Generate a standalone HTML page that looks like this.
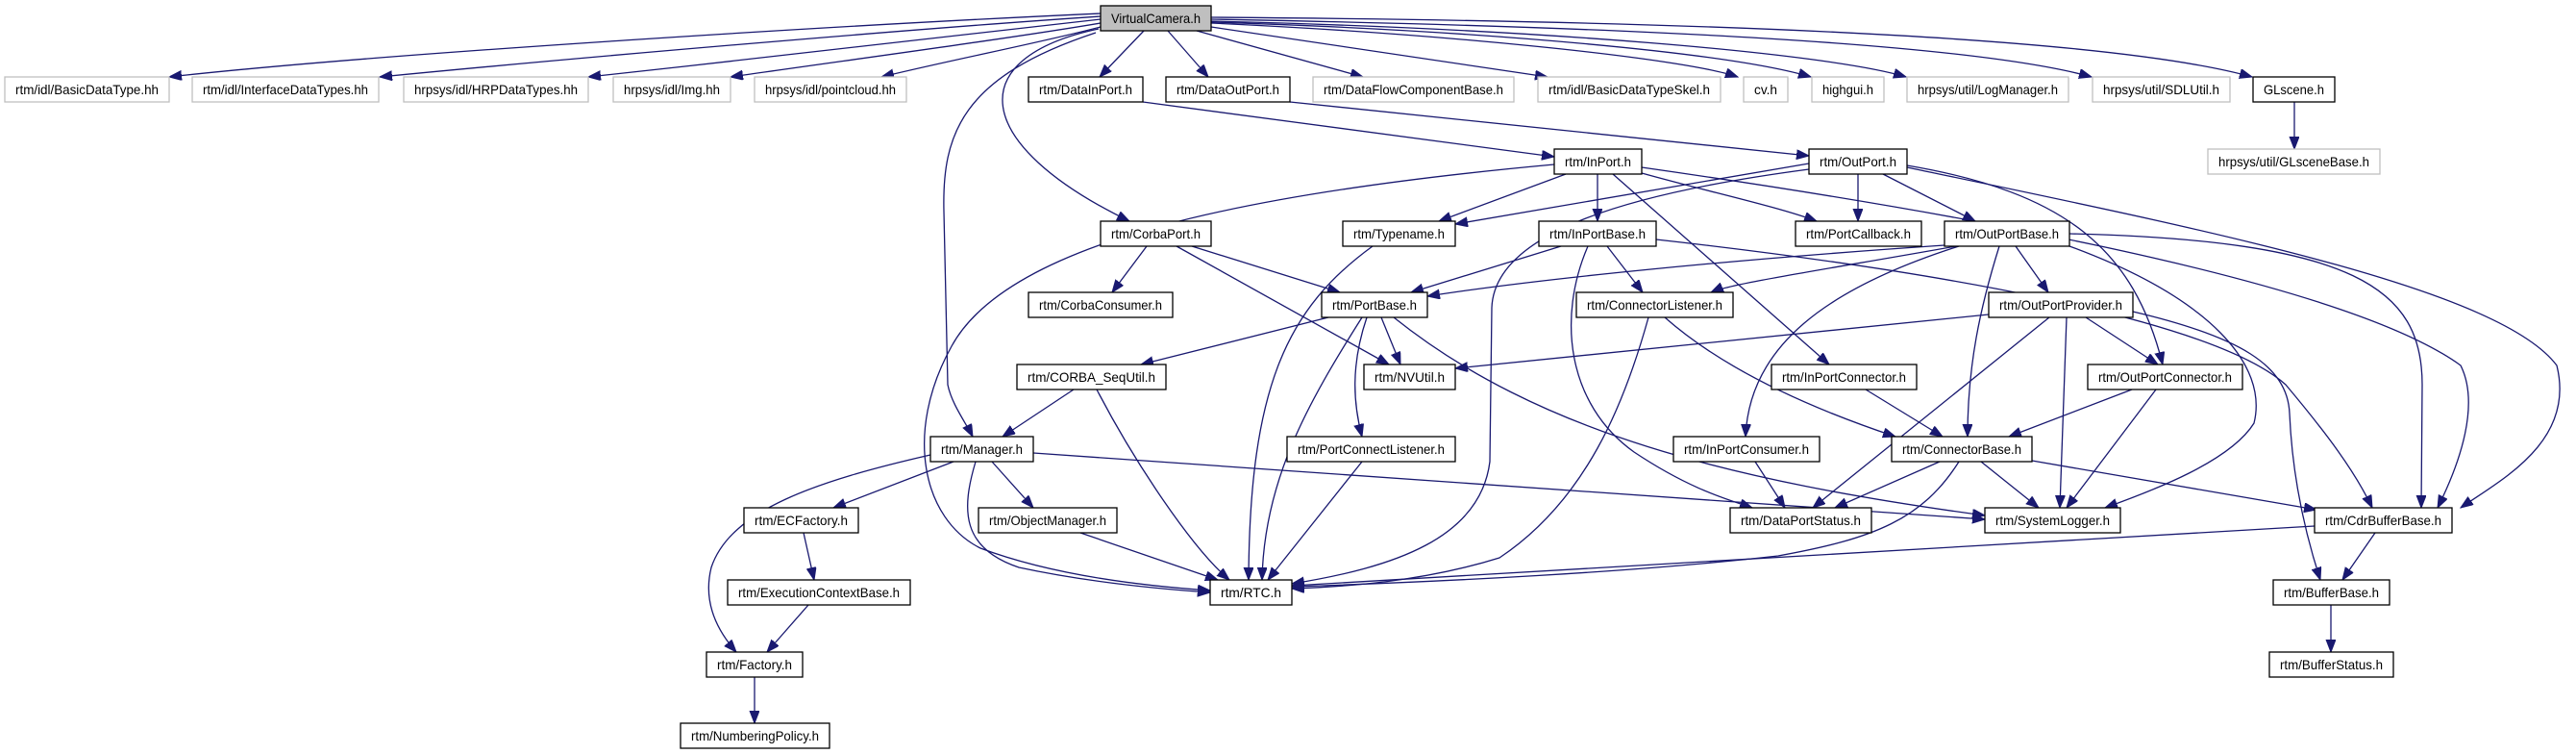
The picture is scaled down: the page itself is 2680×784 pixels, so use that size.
<!DOCTYPE html>
<html><head><meta charset="utf-8"><style>
html,body{margin:0;padding:0;background:#fff;}
svg{display:block;}
text{font-family:"Liberation Sans",sans-serif;font-size:14px;fill:#000;}
.e{fill:none;stroke:#191970;stroke-width:1.3;}
</style></head><body>
<svg width="2680" height="784" viewBox="0 0 2680 784" xmlns="http://www.w3.org/2000/svg">
<defs><marker id="a" markerUnits="userSpaceOnUse" markerWidth="14" markerHeight="11" refX="13" refY="5" orient="auto"><path d="M0,0 L13,5 L0,10 z" fill="#191970" stroke="#191970"/></marker></defs>
<g class="e" marker-end="url(#a)">
<path d="M1145,14 C900,25 400,55 176,80"/>
<path d="M1145,17 C950,30 600,60 395,80"/>
<path d="M1145,20 C1000,35 800,60 612,80"/>
<path d="M1145,24 C1050,40 900,60 760,80"/>
<path d="M1145,28 C1080,45 1000,60 917,80"/>
<path d="M1190,32 L1144,80"/>
<path d="M1215,32 L1257,80"/>
<path d="M1245,32 L1418,80"/>
<path d="M1260,28 L1610,80"/>
<path d="M1260,24 C1500,35 1750,60 1808,80"/>
<path d="M1260,23 C1550,32 1800,55 1884,80"/>
<path d="M1260,22 C1600,30 1900,55 1983,80"/>
<path d="M1260,20 C1700,28 2050,45 2176,80"/>
<path d="M1260,18 C1800,22 2200,40 2343,80"/>
<path d="M1143,30 C1000,60 1010,150 1175,230"/>
<path d="M1140,34 C1000,80 980,140 982,220 L986,400 C990,420 1005,440 1012,454"/>
<path d="M1189,106 L1617,163"/>
<path d="M1342,106 L1882,162"/>
<path d="M1629,181 L1497,230"/>
<path d="M1662,181 L1662,230"/>
<path d="M1708,180 C1780,200 1850,215 1890,230"/>
<path d="M1678,181 L1903,379"/>
<path d="M1617,171 C1300,200 1050,250 990,360 C940,450 960,540 1020,570 C1100,600 1200,610 1259,614"/>
<path d="M1708,174 C2100,230 2450,300 2560,380 C2580,420 2560,480 2536,528"/>
<path d="M1882,170 L1514,233"/>
<path d="M1933,181 L1933,230"/>
<path d="M1959,181 L2055,230"/>
<path d="M1984,172 C2150,200 2220,260 2250,379"/>
<path d="M1882,176 C1700,200 1555,240 1552,320 L1550,480 C1540,560 1450,590 1344,607"/>
<path d="M1984,174 C2300,240 2600,300 2660,380 C2680,460 2600,500 2560,528"/>
<path d="M1193,256 L1157,304"/>
<path d="M1240,256 L1394,304"/>
<path d="M1224,256 L1445,379"/>
<path d="M1428,256 C1340,320 1300,400 1299,603"/>
<path d="M1624,256 L1468,304"/>
<path d="M1672,256 L1709,304"/>
<path d="M1652,256 C1620,330 1630,420 1700,470 C1760,510 1800,520 1823,528"/>
<path d="M1723,249 C2000,280 2300,330 2378,400 C2420,450 2450,490 2468,528"/>
<path d="M2023,255 C1800,270 1600,290 1485,308"/>
<path d="M2035,256 C1900,280 1800,295 1780,304"/>
<path d="M2097,256 L2131,304"/>
<path d="M2080,256 C2060,320 2047,380 2047,454"/>
<path d="M2038,256 C1900,300 1820,360 1816,454"/>
<path d="M2153,256 C2300,310 2360,380 2345,440 C2320,480 2240,510 2190,528"/>
<path d="M2153,243 C2450,250 2520,300 2520,400 L2519,528"/>
<path d="M1382,330 L1187,379"/>
<path d="M1437,330 L1457,379"/>
<path d="M1422,330 C1405,380 1408,420 1417,454"/>
<path d="M1417,330 C1360,420 1315,500 1313,603"/>
<path d="M1450,330 C1600,450 1800,500 2065,536"/>
<path d="M1732,330 C1800,390 1900,430 1972,454"/>
<path d="M1715,330 C1690,420 1650,520 1560,580 C1480,605 1400,610 1344,612"/>
<path d="M2069,327 L1514,383"/>
<path d="M2170,330 L2245,379"/>
<path d="M2132,330 L1886,528"/>
<path d="M2150,330 L2143,528"/>
<path d="M2219,324 C2330,350 2380,380 2382,430 C2385,500 2400,560 2414,603"/>
<path d="M1117,405 L1043,454"/>
<path d="M1141,405 C1180,480 1240,570 1279,603"/>
<path d="M1941,405 L2021,454"/>
<path d="M2218,405 L2090,454"/>
<path d="M2243,405 L2150,528"/>
<path d="M992,480 L867,528"/>
<path d="M968,473 C850,500 760,530 740,590 C730,630 750,660 766,678"/>
<path d="M1032,480 L1075,528"/>
<path d="M1015,480 C1000,530 1000,570 1060,590 C1130,605 1200,612 1259,616"/>
<path d="M1075,471 L2065,540"/>
<path d="M1417,480 L1319,603"/>
<path d="M1826,480 L1857,528"/>
<path d="M2018,480 L1909,528"/>
<path d="M2061,480 L2121,528"/>
<path d="M2114,479 L2410,530"/>
<path d="M2038,480 C2000,540 1950,560 1850,578 C1700,595 1500,605 1344,610"/>
<path d="M2408,547 L1344,609"/>
<path d="M2471,554 L2437,603"/>
<path d="M1124,554 L1267,603"/>
<path d="M836,554 L847,603"/>
<path d="M841,629 L798,678"/>
<path d="M785,704 L785,752"/>
<path d="M2425,629 L2425,678"/>
<path d="M2387,106 L2387,155"/>
</g>
<g id="nodes">
<rect x="1145" y="6" width="115" height="26" fill="#bfbfbf" stroke="#000" stroke-width="1.3"/><text x="1202.5" y="24" text-anchor="middle" textLength="93" lengthAdjust="spacingAndGlyphs">VirtualCamera.h</text>
</g>
<g fill="#fff" stroke-width="1.3">
<!-- gray nodes -->
<g stroke="#bfbfbf">
<rect x="5" y="80" width="171" height="26"/>
<rect x="200" y="80" width="194" height="26"/>
<rect x="420" y="80" width="192" height="26"/>
<rect x="638" y="80" width="122" height="26"/>
<rect x="785" y="80" width="158" height="26"/>
<rect x="1366" y="80" width="209" height="26"/>
<rect x="1600" y="80" width="190" height="26"/>
<rect x="1814" y="80" width="46" height="26"/>
<rect x="1885" y="80" width="75" height="26"/>
<rect x="1984" y="80" width="168" height="26"/>
<rect x="2177" y="80" width="143" height="26"/>
<rect x="2297" y="155" width="179" height="26"/>
</g>
<g stroke="#000">
<rect x="1070" y="80" width="119" height="26"/>
<rect x="1213" y="80" width="129" height="26"/>
<rect x="2344" y="80" width="85" height="26"/>
<rect x="1617" y="155" width="91" height="26"/>
<rect x="1882" y="155" width="102" height="26"/>
<rect x="1145" y="230" width="115" height="26"/>
<rect x="1397" y="230" width="117" height="26"/>
<rect x="1601" y="230" width="122" height="26"/>
<rect x="1868" y="230" width="131" height="26"/>
<rect x="2023" y="230" width="130" height="26"/>
<rect x="1070" y="304" width="150" height="26"/>
<rect x="1375" y="304" width="110" height="26"/>
<rect x="1640" y="304" width="163" height="26"/>
<rect x="2069" y="304" width="150" height="26"/>
<rect x="1058" y="379" width="155" height="26"/>
<rect x="1419" y="379" width="95" height="26"/>
<rect x="1843" y="379" width="151" height="26"/>
<rect x="2172" y="379" width="161" height="26"/>
<rect x="968" y="454" width="107" height="26"/>
<rect x="1339" y="454" width="175" height="26"/>
<rect x="1741" y="454" width="152" height="26"/>
<rect x="1968" y="454" width="146" height="26"/>
<rect x="774" y="528" width="119" height="26"/>
<rect x="1018" y="528" width="144" height="26"/>
<rect x="1800" y="528" width="147" height="26"/>
<rect x="2065" y="528" width="141" height="26"/>
<rect x="2408" y="528" width="143" height="26"/>
<rect x="757" y="603" width="190" height="26"/>
<rect x="1259" y="603" width="85" height="26"/>
<rect x="2365" y="603" width="121" height="26"/>
<rect x="735" y="678" width="100" height="26"/>
<rect x="2361" y="678" width="129" height="26"/>
<rect x="708" y="752" width="155" height="26"/>
</g>
</g>
<g text-anchor="middle" lengthAdjust="spacingAndGlyphs">
<text x="90.5" y="98" textLength="149" lengthAdjust="spacingAndGlyphs">rtm/idl/BasicDataType.hh</text>
<text x="297" y="98" textLength="172" lengthAdjust="spacingAndGlyphs">rtm/idl/InterfaceDataTypes.hh</text>
<text x="516" y="98" textLength="170" lengthAdjust="spacingAndGlyphs">hrpsys/idl/HRPDataTypes.hh</text>
<text x="699" y="98" textLength="100" lengthAdjust="spacingAndGlyphs">hrpsys/idl/Img.hh</text>
<text x="864" y="98" textLength="136" lengthAdjust="spacingAndGlyphs">hrpsys/idl/pointcloud.hh</text>
<text x="1129.5" y="98" textLength="97" lengthAdjust="spacingAndGlyphs">rtm/DataInPort.h</text>
<text x="1277.5" y="98" textLength="107" lengthAdjust="spacingAndGlyphs">rtm/DataOutPort.h</text>
<text x="1470.5" y="98" textLength="187" lengthAdjust="spacingAndGlyphs">rtm/DataFlowComponentBase.h</text>
<text x="1695" y="98" textLength="168" lengthAdjust="spacingAndGlyphs">rtm/idl/BasicDataTypeSkel.h</text>
<text x="1837" y="98" textLength="24" lengthAdjust="spacingAndGlyphs">cv.h</text>
<text x="1922.5" y="98" textLength="53" lengthAdjust="spacingAndGlyphs">highgui.h</text>
<text x="2068" y="98" textLength="146" lengthAdjust="spacingAndGlyphs">hrpsys/util/LogManager.h</text>
<text x="2248.5" y="98" textLength="121" lengthAdjust="spacingAndGlyphs">hrpsys/util/SDLUtil.h</text>
<text x="2386.5" y="98" textLength="63" lengthAdjust="spacingAndGlyphs">GLscene.h</text>
<text x="2386.5" y="173" textLength="157" lengthAdjust="spacingAndGlyphs">hrpsys/util/GLsceneBase.h</text>
<text x="1662.5" y="173" textLength="69" lengthAdjust="spacingAndGlyphs">rtm/InPort.h</text>
<text x="1933" y="173" textLength="80" lengthAdjust="spacingAndGlyphs">rtm/OutPort.h</text>
<text x="1202.5" y="248" textLength="93" lengthAdjust="spacingAndGlyphs">rtm/CorbaPort.h</text>
<text x="1455.5" y="248" textLength="95" lengthAdjust="spacingAndGlyphs">rtm/Typename.h</text>
<text x="1662" y="248" textLength="100" lengthAdjust="spacingAndGlyphs">rtm/InPortBase.h</text>
<text x="1933.5" y="248" textLength="109" lengthAdjust="spacingAndGlyphs">rtm/PortCallback.h</text>
<text x="2088" y="248" textLength="108" lengthAdjust="spacingAndGlyphs">rtm/OutPortBase.h</text>
<text x="1145" y="322" textLength="128" lengthAdjust="spacingAndGlyphs">rtm/CorbaConsumer.h</text>
<text x="1430" y="322" textLength="88" lengthAdjust="spacingAndGlyphs">rtm/PortBase.h</text>
<text x="1721.5" y="322" textLength="141" lengthAdjust="spacingAndGlyphs">rtm/ConnectorListener.h</text>
<text x="2144" y="322" textLength="128" lengthAdjust="spacingAndGlyphs">rtm/OutPortProvider.h</text>
<text x="1135.5" y="397" textLength="133" lengthAdjust="spacingAndGlyphs">rtm/CORBA_SeqUtil.h</text>
<text x="1466.5" y="397" textLength="73" lengthAdjust="spacingAndGlyphs">rtm/NVUtil.h</text>
<text x="1918.5" y="397" textLength="129" lengthAdjust="spacingAndGlyphs">rtm/InPortConnector.h</text>
<text x="2252.5" y="397" textLength="139" lengthAdjust="spacingAndGlyphs">rtm/OutPortConnector.h</text>
<text x="1021.5" y="472" textLength="85" lengthAdjust="spacingAndGlyphs">rtm/Manager.h</text>
<text x="1426.5" y="472" textLength="153" lengthAdjust="spacingAndGlyphs">rtm/PortConnectListener.h</text>
<text x="1817" y="472" textLength="130" lengthAdjust="spacingAndGlyphs">rtm/InPortConsumer.h</text>
<text x="2041" y="472" textLength="124" lengthAdjust="spacingAndGlyphs">rtm/ConnectorBase.h</text>
<text x="833.5" y="546" textLength="97" lengthAdjust="spacingAndGlyphs">rtm/ECFactory.h</text>
<text x="1090" y="546" textLength="122" lengthAdjust="spacingAndGlyphs">rtm/ObjectManager.h</text>
<text x="1873.5" y="546" textLength="125" lengthAdjust="spacingAndGlyphs">rtm/DataPortStatus.h</text>
<text x="2135.5" y="546" textLength="119" lengthAdjust="spacingAndGlyphs">rtm/SystemLogger.h</text>
<text x="2479.5" y="546" textLength="121" lengthAdjust="spacingAndGlyphs">rtm/CdrBufferBase.h</text>
<text x="852" y="621" textLength="168" lengthAdjust="spacingAndGlyphs">rtm/ExecutionContextBase.h</text>
<text x="1301.5" y="621" textLength="63" lengthAdjust="spacingAndGlyphs">rtm/RTC.h</text>
<text x="2425.5" y="621" textLength="99" lengthAdjust="spacingAndGlyphs">rtm/BufferBase.h</text>
<text x="785" y="696" textLength="78" lengthAdjust="spacingAndGlyphs">rtm/Factory.h</text>
<text x="2425.5" y="696" textLength="107" lengthAdjust="spacingAndGlyphs">rtm/BufferStatus.h</text>
<text x="785.5" y="770" textLength="133" lengthAdjust="spacingAndGlyphs">rtm/NumberingPolicy.h</text>
</g>
</svg>
</body></html>
